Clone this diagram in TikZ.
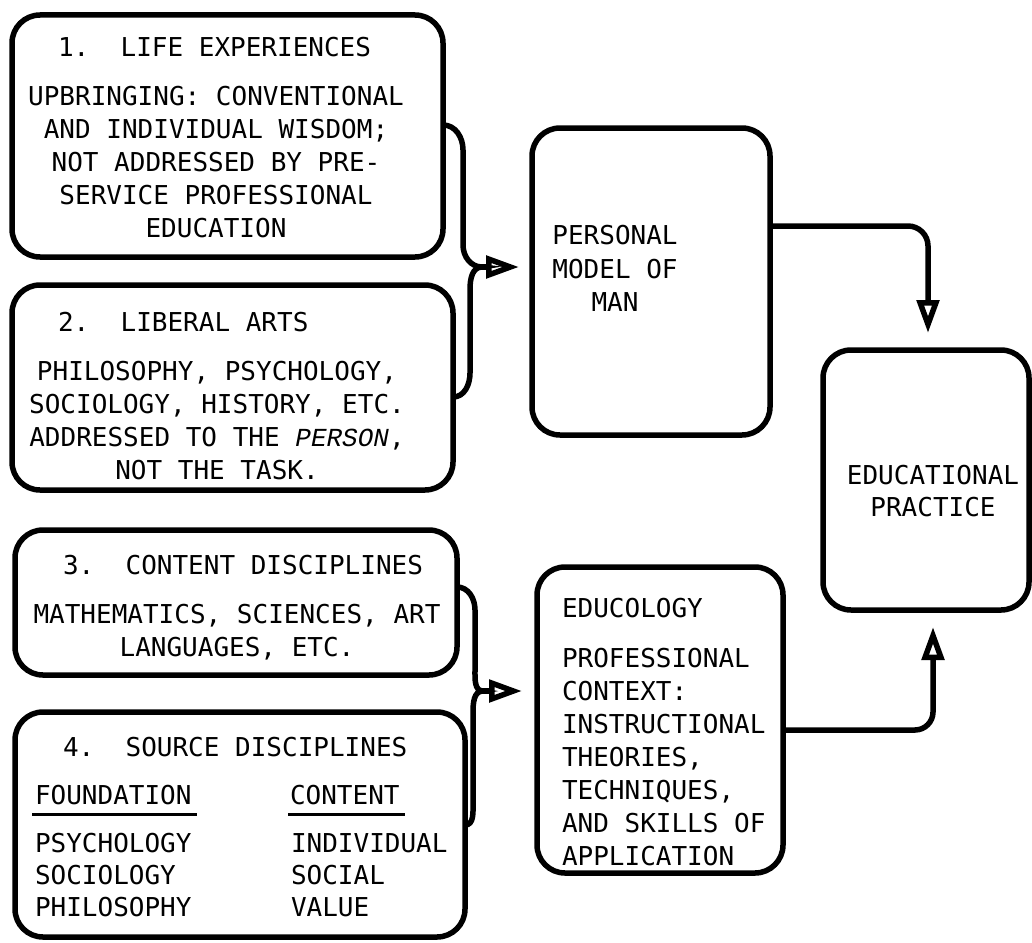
\documentclass[tikz,border=0pt]{standalone}
\usepackage{fontspec}
\setmonofont{DejaVu Sans Mono}
\newfontfamily\itmono{Liberation Mono}
\usetikzlibrary{arrows.meta}
\begin{document}
\begin{tikzpicture}[x=1pt,y=-1pt,
  box/.style={draw, line width=5.5pt, rounded corners=28pt, inner sep=0pt, outer sep=0pt},
  conn/.style={line width=5.5pt},
  arr/.style={-{Triangle[open,length=33pt,width=22pt]}},
  txt/.style={font=\ttfamily\fontsize{26}{33}\selectfont, inner sep=0pt, outer sep=0pt},
  coltxt/.style={font=\ttfamily\fontsize{26}{32}\selectfont, inner sep=0pt, outer sep=0pt, align=left, anchor=west},
  uline/.style={line width=2.5pt}]
\fill[white] (0,0) rectangle (1032,942);
\useasboundingbox (0,0) rectangle (1032,942);

% boxes
\node[box, minimum width=431pt, minimum height=242pt] (b1) at (227.5,136) {};
\node[box, minimum width=441pt, minimum height=205pt] (b2) at (232.5,387.5) {};
\node[box, minimum width=442pt, minimum height=145pt] (b3) at (236,602.5) {};
\node[box, minimum width=450pt, minimum height=225pt] (b4) at (240,824.5) {};
\node[box, minimum width=238pt, minimum height=307pt] (pm) at (651,281.5) {};
\node[box, minimum width=246pt, minimum height=306pt] (ed) at (660,720) {};
\node[box, minimum width=206pt, minimum height=260pt] (ep) at (926,480) {};

% texts
\node[txt, anchor=west] (h1) at (58,47) {1.~~LIFE EXPERIENCES};
\node[txt, align=center] (t1body) at (216,162) {UPBRINGING: CONVENTIONAL\\AND INDIVIDUAL WISDOM;\\NOT ADDRESSED BY PRE-\\SERVICE PROFESSIONAL\\EDUCATION};
\node[txt, anchor=west] (h2) at (58,322) {2.~~LIBERAL ARTS};
\node[txt, align=center] (t2body) at (217,420.5) {PHILOSOPHY, PSYCHOLOGY,\\SOCIOLOGY, HISTORY, ETC.\\ADDRESSED TO THE {\itmono\itshape PERSON},\\NOT THE TASK.};
\node[txt, anchor=west] (h3) at (63,565) {3.~~CONTENT DISCIPLINES};
\node[txt, align=center] (t3body) at (237,632) {MATHEMATICS, SCIENCES, ART\\LANGUAGES, ETC.};
\node[txt, anchor=west] (h4) at (63,747) {4.~~SOURCE DISCIPLINES};
\node[coltxt] (fnd) at (35,795) {FOUNDATION};
\node[coltxt] (cnt) at (290,795) {CONTENT};
\draw[uline] ([xshift=-3pt,yshift=-9.5pt]fnd.south west) -- ([xshift=5pt,yshift=-9.5pt]fnd.south east);
\draw[uline] ([xshift=-2pt,yshift=-9.5pt]cnt.south west) -- ([xshift=5pt,yshift=-9.5pt]cnt.south east);
\node[coltxt] (fcol) at (35,875) {PSYCHOLOGY\\SOCIOLOGY\\PHILOSOPHY};
\node[coltxt] (ccol) at (291,875) {INDIVIDUAL\\SOCIAL\\VALUE};

\node[txt, align=center, font=\ttfamily\fontsize{26}{33.5}\selectfont] (pmtxt) at (615,268.5) {PERSONAL\\MODEL OF\\MAN};
\node[txt, anchor=west] (edh) at (562,608) {EDUCOLOGY};
\node[txt, anchor=west, align=left] (edbody) at (562,757.5) {PROFESSIONAL\\CONTEXT:\\INSTRUCTIONAL\\THEORIES,\\TECHNIQUES,\\AND SKILLS OF\\APPLICATION};
\node[txt, align=center, font=\ttfamily\fontsize{26}{32}\selectfont] (eptxt) at (933,491) {EDUCATIONAL\\PRACTICE};

% helper coordinates
\coordinate (ya) at (0,226);
\coordinate (xa) at (928,0);
\coordinate (yb) at (0,730);
\coordinate (xb) at (933,0);
\coordinate (y1a) at (0,125);
\coordinate (y1b) at (0,397);
\coordinate (y2a) at (0,587);
\coordinate (y2b) at (0,825);
\coordinate (tp1) at (482,267);
\coordinate (tp2) at (483,691);

% arrows to educational practice
\draw[conn, arr, rounded corners=20pt, shorten >=17pt] (pm.east |- ya) -| (xa |- ep.north);
\draw[conn, arr, rounded corners=18pt, shorten >=17pt] (ed.east |- yb) -| (xb |- ep.south);

% brace 1
\draw[conn] (b1.east |- y1a) to[out=0,in=90] (463,150) -- (463,245) to[out=-90,in=180] (tp1)
  to[out=180,in=90] (470,289) -- (470,373) to[out=-90,in=0] (b2.east |- y1b);
\draw[conn, arr, shorten >=13pt] (tp1) -- (pm.west |- tp1);

% brace 2
\draw[conn] (b3.east |- y2a) to[out=0,in=90] (475,610) -- (475,670) to[out=-90,in=180] (tp2)
  to[out=180,in=90] (473,713) -- (473,803) to[out=-90,in=0] (b4.east |- y2b);
\draw[conn, arr, shorten >=15pt] (tp2) -- (ed.west |- tp2);
\end{tikzpicture}
\end{document}
